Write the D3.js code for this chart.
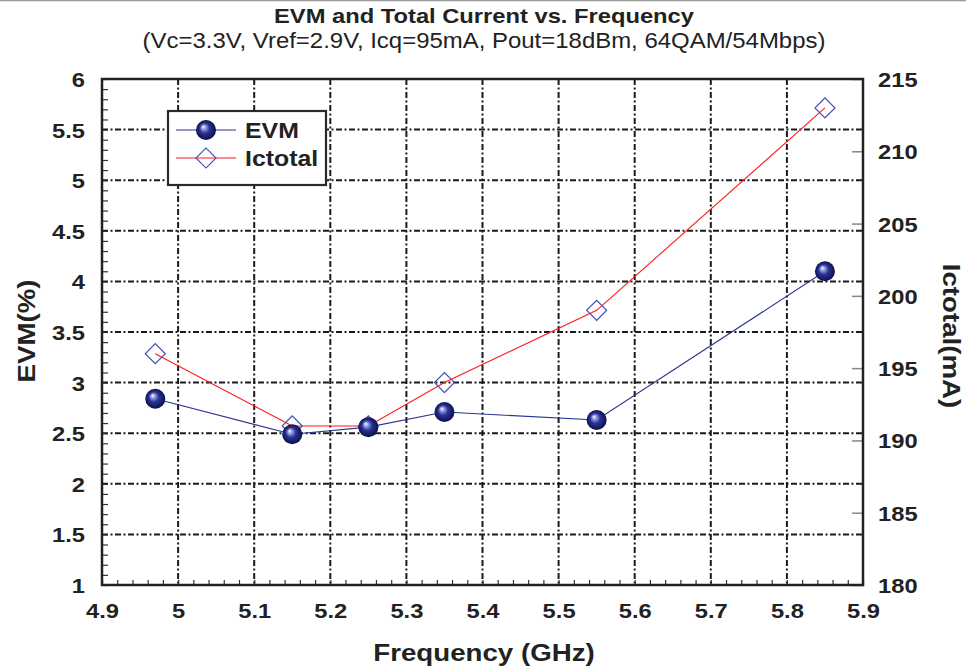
<!DOCTYPE html>
<html><head><meta charset="utf-8">
<script src="https://cdn.jsdelivr.net/npm/d3@7"></script>
<style>html,body{margin:0;padding:0;background:#fff;}svg{display:block;font-family:"Liberation Sans",Arial,sans-serif;}</style>
</head><body>
<svg id="c" width="966" height="667"></svg>
<script>
const freq = [4.97, 5.15, 5.25, 5.35, 5.55, 5.85];
const evm = [2.84, 2.49, 2.56, 2.71, 2.63, 4.10];
const ictotal = [196, 191, 191, 194, 199, 213];
const xTicks = [4.9, 5.0, 5.1, 5.2, 5.3, 5.4, 5.5, 5.6, 5.7, 5.8, 5.9];
const yTicks = [1, 1.5, 2, 2.5, 3, 3.5, 4, 4.5, 5, 5.5, 6];
const y2Ticks = [180, 185, 190, 195, 200, 205, 210, 215];
const seriesNames = ["EVM", "Ictotal"];
const titleText = "EVM and Total Current vs. Frequency";
const subtitleText = "(Vc=3.3V, Vref=2.9V, Icq=95mA, Pout=18dBm, 64QAM/54Mbps)";

const SX = 1.13; // horizontal glyph stretch
const svg = d3.select("#c");
const L = 102, R = 863, T = 79, B = 585;
const x = d3.scaleLinear().domain([4.9, 5.9]).range([L, R]);
const y = d3.scaleLinear().domain([1, 6]).range([B, T]);
const y2 = d3.scaleLinear().domain([180, 215]).range([B, T]);

const defs = svg.append("defs");
const g = defs.append("radialGradient").attr("id", "ball").attr("cx", "50%").attr("cy", "50%").attr("r", "50%").attr("fx", "36%").attr("fy", "33%");
g.append("stop").attr("offset", "0%").attr("stop-color", "#ffffff");
g.append("stop").attr("offset", "20%").attr("stop-color", "#9aa3e6");
g.append("stop").attr("offset", "50%").attr("stop-color", "#2a3493");
g.append("stop").attr("offset", "85%").attr("stop-color", "#141a66");
g.append("stop").attr("offset", "100%").attr("stop-color", "#0a0d3a");

function txt(parent, tx, ty, rot, s, size, weight, anchor) {
  return parent.append("text")
    .attr("transform", `translate(${tx},${ty}) rotate(${rot}) scale(${SX},1)`)
    .attr("text-anchor", anchor).attr("font-size", size).attr("font-weight", weight)
    .attr("fill", "#222").text(s);
}

// top border line
svg.append("line").attr("x1", 0).attr("x2", 966).attr("y1", 0.5).attr("y2", 0.5).attr("stroke", "#999").attr("stroke-width", 1.5);

// titles
txt(svg, 484, 23, 0, titleText, 21, "bold", "middle");
txt(svg, 484, 48, 0, subtitleText, 21.2, "normal", "middle");

// grid
const dash = "6,2.5,2,2.5";
svg.append("g").selectAll("line").data(xTicks.slice(1, -1)).join("line")
  .attr("x1", d => x(d)).attr("x2", d => x(d)).attr("y1", T).attr("y2", B)
  .attr("stroke", "#1a1a1a").attr("stroke-width", 2).attr("stroke-dasharray", dash);
svg.append("g").selectAll("line").data(yTicks.slice(1, -1)).join("line")
  .attr("x1", L).attr("x2", R).attr("y1", d => y(d)).attr("y2", d => y(d))
  .attr("stroke", "#1a1a1a").attr("stroke-width", 2).attr("stroke-dasharray", dash);

// minor ticks (inside)
const ax = svg.append("g");
ax.append("g").attr("transform", `translate(${L},0)`)
  .call(d3.axisRight(y).tickValues(d3.range(1, 6.001, 0.1)).tickSize(6).tickFormat(""))
  .call(s => s.select(".domain").remove())
  .selectAll("line").attr("stroke", "#333").attr("stroke-width", 1.2);
ax.append("g").attr("transform", `translate(0,${B})`)
  .call(d3.axisTop(x).tickValues(d3.range(4.9, 5.9001, 0.02)).tickSize(5).tickFormat(""))
  .call(s => s.select(".domain").remove())
  .selectAll("line").attr("stroke", "#333").attr("stroke-width", 1.2);
ax.append("g").attr("transform", `translate(${R},0)`)
  .call(d3.axisLeft(y2).tickValues(y2Ticks).tickSize(11).tickFormat(""))
  .call(s => s.select(".domain").remove())
  .selectAll("line").attr("stroke", "#888").attr("stroke-width", 1.5);

// frame
svg.append("rect").attr("x", L).attr("y", T).attr("width", R - L).attr("height", B - T)
  .attr("fill", "none").attr("stroke", "#222").attr("stroke-width", 2.5);

// tick labels
function styleLabels(sel, dy) {
  sel.selectAll("text").attr("font-size", 21).attr("font-weight", "bold").attr("fill", "#222")
    .attr("font-family", "Liberation Sans, Arial, sans-serif").attr("dy", dy)
    .attr("x", 0).attr("y", 0).attr("transform", `scale(${SX},1)`);
}
const lab = svg.append("g");
lab.append("g").attr("transform", `translate(${L - 17},0)`)
  .call(d3.axisLeft(y).tickValues(yTicks).tickSize(0).tickFormat(d3.format("")))
  .call(s => s.select(".domain").remove())
  .call(s => styleLabels(s, "0.36em"));
lab.append("g").attr("transform", `translate(${R + 15},0)`)
  .call(d3.axisRight(y2).tickValues(y2Ticks).tickSize(0).tickFormat(d3.format("")))
  .call(s => s.select(".domain").remove())
  .call(s => styleLabels(s, "0.36em"));
lab.append("g").attr("transform", `translate(0,${B + 33})`)
  .call(d3.axisBottom(x).tickValues(xTicks).tickSize(0).tickFormat(d3.format("")))
  .call(s => s.select(".domain").remove())
  .call(s => styleLabels(s, "0"));

// axis titles
txt(svg, 484, 661, 0, "Frequency (GHz)", 24.5, "bold", "middle");
txt(svg, 35, 331, -90, "EVM(%)", 24.5, "bold", "middle");
txt(svg, 943, 336, 90, "Ictotal(mA)", 24.5, "bold", "middle");

// Ictotal series
const ic = freq.map((f, i) => [f, ictotal[i]]);
svg.append("path").datum(ic).attr("fill", "none").attr("stroke", "#ff1a1a").attr("stroke-width", 1.1)
  .attr("d", d3.line().x(d => x(d[0])).y(d => y2(d[1])));
const diamond = d3.symbol().type(d3.symbolSquare).size(200)();
svg.append("g").selectAll("path").data(ic).join("path")
  .attr("transform", d => `translate(${x(d[0])},${y2(d[1])}) rotate(45)`)
  .attr("d", diamond).attr("fill", "none").attr("stroke", "#4450b0").attr("stroke-width", 1.2);

// EVM series
const ev = freq.map((f, i) => [f, evm[i]]);
svg.append("path").datum(ev).attr("fill", "none").attr("stroke", "#2b3590").attr("stroke-width", 1.1)
  .attr("d", d3.line().x(d => x(d[0])).y(d => y(d[1])));
svg.append("g").selectAll("circle").data(ev).join("circle")
  .attr("cx", d => x(d[0])).attr("cy", d => y(d[1])).attr("r", 10).attr("fill", "url(#ball)");

// legend
const lg = svg.append("g").attr("transform", "translate(168,111)");
lg.append("rect").attr("width", 158).attr("height", 74).attr("fill", "#fff").attr("stroke", "#2a2a2a").attr("stroke-width", 2.2);
lg.append("line").attr("x1", 8).attr("x2", 68).attr("y1", 19).attr("y2", 19).attr("stroke", "#2b3590").attr("stroke-width", 1.1);
lg.append("circle").attr("cx", 38).attr("cy", 19).attr("r", 10).attr("fill", "url(#ball)");
lg.append("line").attr("x1", 8).attr("x2", 68).attr("y1", 47).attr("y2", 47).attr("stroke", "#ff1a1a").attr("stroke-width", 1.1);
lg.append("path").attr("transform", "translate(38,47) rotate(45)").attr("d", diamond).attr("fill", "none").attr("stroke", "#4450b0").attr("stroke-width", 1.2);
txt(lg, 77, 27, 0, seriesNames[0], 22, "bold", "start");
txt(lg, 77, 55, 0, seriesNames[1], 22, "bold", "start");
</script>
</body></html>
